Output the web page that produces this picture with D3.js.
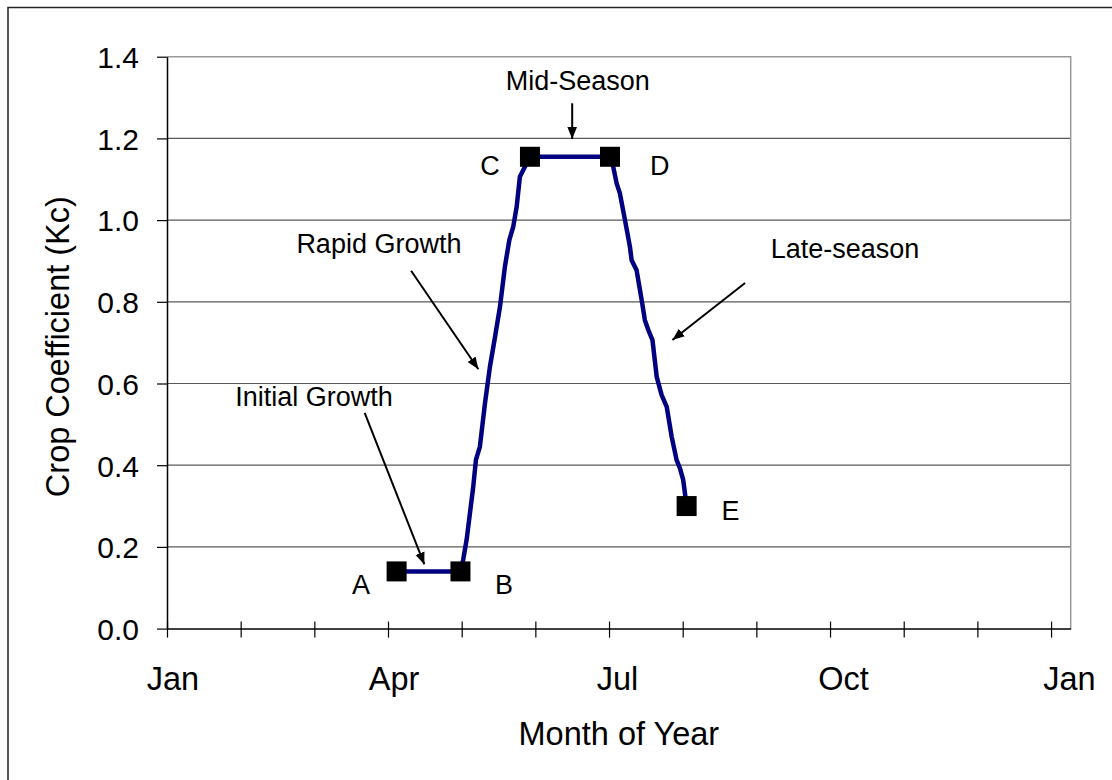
<!DOCTYPE html>
<html>
<head>
<meta charset="utf-8">
<script src="https://cdn.jsdelivr.net/npm/d3@7"></script>
<style>
  html, body { margin: 0; padding: 0; background: #fff; }
  svg { display: block; font-family: "Liberation Sans", Arial, Helvetica, sans-serif; }
</style>
</head>
<body>
<svg id="chart" width="1112" height="780"></svg>
<script>
// Crop coefficient curve over the year (x = day of year, y = Kc)
const curveDays = [93.5, 119.5, 120.6, 122.0, 124.7, 125.8, 127.4, 129.5, 131.5, 133.6, 135.6, 137.6, 139.4, 141.0, 142.4, 143.7, 147.8,
                   180.4, 181.7, 183.1, 184.4, 186.5, 188.5, 189.2, 191.2, 193.3, 194.6, 196.0, 197.7, 199.4, 201.4, 203.5, 205.5, 207.5, 208.9, 210.2, 211.6];
const curveKc   = [0.14, 0.14, 0.168, 0.217, 0.347, 0.413, 0.445, 0.552, 0.641, 0.715, 0.788, 0.886, 0.951, 0.984, 1.033, 1.106, 1.155,
                   1.155, 1.131, 1.090, 1.066, 1.000, 0.935, 0.902, 0.878, 0.804, 0.755, 0.731, 0.706, 0.617, 0.572, 0.543, 0.470, 0.413, 0.392, 0.364, 0.30];

// Growth-stage break points
const stageNames = ["A", "B", "C", "D", "E"];
const stageDays  = [93.5, 119.5, 147.8, 180.4, 211.6];
const stageKc    = [0.14, 0.14, 1.155, 1.155, 0.30];
// Where each stage letter sits (day, Kc of baseline)
const stageLabelDays = [79.0, 137.2, 131.5, 200.7, 229.5];
const stageLabelKc   = [0.085, 0.085, 1.110, 1.110, 0.266];

// Axis ticks and labels
const yTicks = [0, 0.2, 0.4, 0.6, 0.8, 1.0, 1.2, 1.4];
const xTickDays = d3.range(0, 361, 30);
const monthLabels = ["Jan", "Apr", "Jul", "Oct", "Jan"];
const monthLabelDays = [0, 90, 181, 273, 365];

// Stage annotations: text position and arrow (from -> to), in data units
const noteTexts   = ["Mid-Season", "Rapid Growth", "Late-season", "Initial Growth"];
const noteDays    = [167.3, 86.3, 276.1, 59.9];
const noteKc      = [1.3185, 0.920, 0.907, 0.544];
const arrowFromDay = [165.0, 99.4, 235.4, 80.5];
const arrowFromKc  = [1.286, 0.876, 0.846, 0.528];
const arrowToDay   = [165.0, 126.8, 205.8, 104.8];
const arrowToKc    = [1.1985, 0.635, 0.7065, 0.157];

const svg = d3.select("#chart");

const plot = { left: 167, top: 56.7, right: 1070.7, bottom: 628.6 };
const x = d3.scaleLinear().domain([0, 368]).range([plot.left, plot.right]);
const y = d3.scaleLinear().domain([0, 1.4]).range([plot.bottom, plot.top]);

// Outer frame
svg.append("rect")
  .attr("x", 8).attr("y", 7.5).attr("width", 1120).attr("height", 790)
  .attr("fill", "none").attr("stroke", "#222").attr("stroke-width", 1.5);

// Horizontal gridlines
svg.append("g")
  .selectAll("line")
  .data(yTicks.filter(v => v > 0 && v < 1.4))
  .join("line")
  .attr("x1", plot.left).attr("x2", plot.right)
  .attr("y1", d => y(d)).attr("y2", d => y(d))
  .attr("stroke", "#5a5a5a").attr("stroke-width", 1.2);

// Plot area border (top and right)
svg.append("path")
  .attr("d", `M${plot.left},${y(1.4)}H${plot.right}V${plot.bottom}`)
  .attr("fill", "none").attr("stroke", "#999").attr("stroke-width", 1.5);

// Y axis
const yAxis = svg.append("g")
  .attr("transform", `translate(${plot.left},0)`)
  .call(d3.axisLeft(y).tickValues(yTicks).tickSizeInner(10).tickSizeOuter(0).tickPadding(18)
    .tickFormat(d3.format(".1f")));
yAxis.select(".domain").attr("stroke", "#000").attr("stroke-width", 1.5);
yAxis.selectAll(".tick line").attr("stroke", "#000").attr("stroke-width", 1.2);
yAxis.selectAll(".tick text")
  .attr("font-size", 30).attr("fill", "#000")
  .attr("font-family", "Liberation Sans, Arial, sans-serif")
  .attr("dy", "0.36em");

// X axis with ticks crossing the line
const xAxis = svg.append("g")
  .attr("transform", `translate(0,${plot.bottom})`)
  .call(d3.axisBottom(x).tickValues(xTickDays).tickSizeInner(9).tickSizeOuter(0).tickFormat(""));
xAxis.select(".domain").attr("stroke", "#000").attr("stroke-width", 1.5);
xAxis.selectAll(".tick line").attr("y1", -7).attr("stroke", "#000").attr("stroke-width", 1.2);

// Month labels
svg.append("g")
  .selectAll("text")
  .data(monthLabels)
  .join("text")
  .attr("x", (d, i) => x(monthLabelDays[i]) + 6)
  .attr("y", 690)
  .attr("text-anchor", "middle")
  .attr("font-size", 32.5)
  .text(d => d);

// Axis titles
svg.append("text")
  .attr("x", (plot.left + plot.right) / 2).attr("y", 745)
  .attr("text-anchor", "middle").attr("font-size", 32.5)
  .text("Month of Year");
svg.append("text")
  .attr("transform", `translate(69,${(plot.top + plot.bottom) / 2 + 4}) rotate(-90)`)
  .attr("text-anchor", "middle").attr("font-size", 32.5)
  .text("Crop Coefficient (Kc)");

// Kc curve
const pts = curveDays.map((d, i) => [d, curveKc[i]]);
svg.append("path")
  .datum(pts)
  .attr("d", d3.line().x(d => x(d[0])).y(d => y(d[1])))
  .attr("fill", "none").attr("stroke", "#000080").attr("stroke-width", 4.5)
  .attr("stroke-linejoin", "round");

// Stage markers
const m = 20;
svg.append("g")
  .selectAll("rect")
  .data(stageNames)
  .join("rect")
  .attr("x", (d, i) => x(stageDays[i]) - m / 2)
  .attr("y", (d, i) => y(stageKc[i]) - m / 2)
  .attr("width", m).attr("height", m)
  .attr("fill", "#000");

// Stage letters
svg.append("g")
  .selectAll("text")
  .data(stageNames)
  .join("text")
  .attr("x", (d, i) => x(stageLabelDays[i]))
  .attr("y", (d, i) => y(stageLabelKc[i]))
  .attr("text-anchor", "middle").attr("font-size", 27)
  .text(d => d);

// Annotation arrows
svg.append("defs").append("marker")
  .attr("id", "arrowhead")
  .attr("viewBox", "0 0 10 10")
  .attr("refX", 10).attr("refY", 5)
  .attr("markerWidth", 6).attr("markerHeight", 6)
  .attr("markerUnits", "strokeWidth")
  .attr("orient", "auto")
  .append("path")
  .attr("d", "M0,1L10,5L0,9Z")
  .attr("fill", "#000");

svg.append("g")
  .selectAll("line")
  .data(noteTexts)
  .join("line")
  .attr("x1", (d, i) => x(arrowFromDay[i]))
  .attr("y1", (d, i) => y(arrowFromKc[i]))
  .attr("x2", (d, i) => x(arrowToDay[i]))
  .attr("y2", (d, i) => y(arrowToKc[i]))
  .attr("stroke", "#000").attr("stroke-width", 2)
  .attr("marker-end", "url(#arrowhead)");

svg.append("g")
  .selectAll("text")
  .data(noteTexts)
  .join("text")
  .attr("x", (d, i) => x(noteDays[i]))
  .attr("y", (d, i) => y(noteKc[i]))
  .attr("text-anchor", "middle").attr("font-size", 27)
  .text(d => d);
</script>
</body>
</html>
